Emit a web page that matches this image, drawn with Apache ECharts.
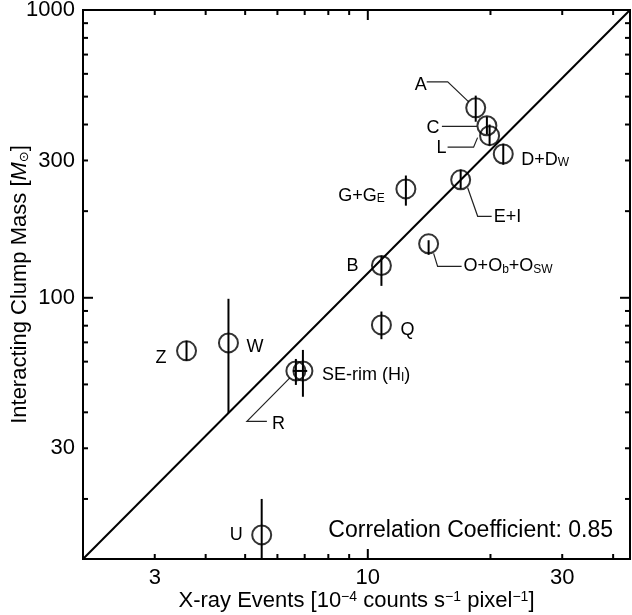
<!DOCTYPE html>
<html>
<head>
<meta charset="utf-8">
<script src="https://cdn.jsdelivr.net/npm/echarts@6.0.0/dist/echarts.min.js"></script>
<style>
  html, body { margin: 0; padding: 0; background: #fff; }
  #main { width: 632px; height: 615px; }
</style>
</head>
<body>
<div id="main"></div>
<script>
// clump names (rich text for the subscripts)
const labelText = ['A', 'C', 'L', 'D+D{s|W}', 'E+I', 'G+G{s|E}', 'O+O{s|b}+O{s|SW}', 'B', 'Q', 'W', 'Z', 'R', 'SE-rim (H{s|I})', 'U']
// X-ray events [1e-4 counts s-1 pixel-1]
const xray   = [18.4, 19.6, 19.9, 21.5, 16.9, 12.4, 14.1, 10.8, 10.8, 4.55, 3.59, 6.66, 6.93, 5.49]
// interacting clump mass [Msun] and its error range
const mass   = [457, 396, 366, 316, 257, 239, 154, 129.5, 80.5, 69.7, 65.4, 55.7, 55.7, 15.0]
const massLo = [409, 369, 338, 290, 239, 209, 141, 110, 71.8, 39.8, 60.4, 49.8, 45.3, 11]
const massHi = [504, 426, 400, 343, 279, 266, 158.5, 140, 89.6, 99.2, 70.9, 61.3, 65.9, 20.0]
// horizontal error (only SE-rim has a visible one)
const xrayLo = [null, null, null, null, null, null, null, null, null, null, null, null, 6.55, null]
const xrayHi = [null, null, null, null, null, null, null, null, null, null, null, null, 7.1, null]

// fitted relation, end points
const fitX = [2, 44]
const fitY = [12.37, 1000]

// axis ranges and ticks
const xMin = 2, xMax = 44, yMin = 12.37, yMax = 1000
const xLabels = [3, 10, 30]
const xMajor = [10]
const xMinor = [2, 3, 4, 5, 6, 7, 8, 9, 20, 30, 40]
const yLabels = [30, 100, 300, 1000]
const yMajor = [100, 1000]
const yMinor = [20, 30, 40, 50, 60, 70, 80, 90, 200, 300, 400, 500, 600, 700, 800, 900]

// where each label sits relative to its circle (px), plus leader lines
const labelLayout = [
  { dx: -55, dy: -23, align: 'center', leader: [[-49, -26], [-28, -26], [-7, -6]] },
  { dx: -54, dy: 2, align: 'center', leader: [[-45, 0.5], [-10, 0.5]] },
  { dx: -48, dy: 12, align: 'center', leader: [[-42, 11.5], [-16, 11.5], [-12, 2]] },
  { dx: 18, dy: 6, align: 'left' },
  { dx: 33, dy: 37, align: 'left', leader: [[7, 8], [17, 36.5], [31, 36.5]] },
  { dx: -21, dy: 7, align: 'right' },
  { dx: 35, dy: 22.5, align: 'left', leader: [[5, 9.5], [9, 22.5], [33, 22.5]] },
  { dx: -23, dy: 1, align: 'right' },
  { dx: 19, dy: 5, align: 'left' },
  { dx: 18, dy: 4.5, align: 'left' },
  { dx: -20, dy: 7, align: 'right' },
  { dx: -24, dy: 53, align: 'left', leader: [[-6, 7], [-49, 50.5], [-29, 50.5]] },
  { dx: 19, dy: 4, align: 'left' },
  { dx: -19, dy: 0, align: 'right' }
]

const FONT = '"Liberation Sans", Arial, Helvetica, sans-serif'
const MAJOR_LEN = 10, MINOR_LEN = 5

const chart = echarts.init(document.getElementById('main'))

const option = {
  animation: false,
  grid: {
    left: 83, top: 10, width: 547, height: 549,
    outerBoundsMode: 'none', containLabel: false,
    show: true, borderColor: '#000', borderWidth: 2, backgroundColor: 'transparent'
  },
  xAxis: {
    type: 'log',
    logBase: 10,
    min: xMin,
    max: xMax,
    axisLine: { show: false },
    axisTick: { show: false },
    splitLine: { show: false },
    axisLabel: {
      customValues: xLabels,
      formatter: v => String(v),
      color: '#000', fontSize: 22, fontFamily: FONT, margin: 8
    },
    name: 'X-ray Events [10{sup|\u22124} counts s{sup|\u22121} pixel{sup|\u22121}]',
    nameLocation: 'middle',
    nameGap: 31,
    nameMoveOverlap: false,
    nameTextStyle: {
      color: '#000', fontSize: 22, fontFamily: FONT, lineHeight: 22,
      rich: { sup: { fontSize: 14, lineHeight: 14, verticalAlign: 'top', fontFamily: FONT, color: '#000' } }
    }
  },
  yAxis: {
    type: 'log',
    logBase: 10,
    min: yMin,
    max: yMax,
    axisLine: { show: false },
    axisTick: { show: false },
    splitLine: { show: false },
    axisLabel: {
      customValues: yLabels,
      formatter: v => String(v),
      color: '#000', fontSize: 22, fontFamily: FONT, margin: 8
    },
    name: 'Interacting Clump Mass [{it|M}{sun|\u2299}]',
    nameLocation: 'middle',
    nameGap: 52,
    nameMoveOverlap: false,
    nameTextStyle: {
      color: '#000', fontSize: 22, fontFamily: FONT, lineHeight: 22,
      rich: {
        it: { fontSize: 22, fontStyle: 'italic', fontFamily: FONT, color: '#000' },
        sun: { fontSize: 13, lineHeight: 13, verticalAlign: 'bottom', fontFamily: 'DejaVu Sans', color: '#000' }
      }
    }
  },
  graphic: [{
    type: 'text',
    right: 19,
    top: 519,
    style: { text: 'Correlation Coefficient: 0.85', fontSize: 23, fontFamily: FONT, fill: '#000' }
  }],
  series: [
    // fitted line
    {
      type: 'line',
      data: fitX.map((x, i) => [x, fitY[i]]),
      symbol: 'none',
      lineStyle: { color: '#000', width: 2 },
      silent: true
    },
    // inward ticks on all four sides, placed through the log scales
    {
      type: 'custom',
      data: [[xMin, yMin]],
      renderItem: function (params, api) {
        const bl = api.coord([xMin, yMin])
        const tr = api.coord([xMax, yMax])
        const ch = []
        const seg = (x1, y1, x2, y2) => ch.push({
          type: 'line',
          shape: { x1: x1, y1: y1, x2: x2, y2: y2 },
          style: { stroke: '#000', lineWidth: 2 }
        })
        const xTick = (v, len) => {
          const x = api.coord([v, yMin])[0]
          seg(x, bl[1], x, bl[1] - len)
          seg(x, tr[1], x, tr[1] + len)
        }
        const yTick = (v, len) => {
          const y = api.coord([xMin, v])[1]
          seg(bl[0], y, bl[0] + len, y)
          seg(tr[0], y, tr[0] - len, y)
        }
        xMinor.forEach(v => xTick(v, MINOR_LEN))
        xMajor.forEach(v => xTick(v, MAJOR_LEN))
        yMinor.forEach(v => yTick(v, MINOR_LEN))
        yMajor.forEach(v => yTick(v, MAJOR_LEN))
        return { type: 'group', children: ch }
      },
      silent: true
    },
    // error bars
    {
      type: 'custom',
      clip: true,
      data: xray.map((x, i) => [x, mass[i]]),
      renderItem: function (params, api) {
        const i = params.dataIndex
        const top = api.coord([xray[i], massHi[i]])
        const bot = api.coord([xray[i], massLo[i]])
        const ch = [{
          type: 'line',
          shape: { x1: top[0], y1: top[1], x2: bot[0], y2: bot[1] },
          style: { stroke: '#000', lineWidth: 2 }
        }]
        if (xrayLo[i] != null) {
          const l = api.coord([xrayLo[i], mass[i]])
          const r = api.coord([xrayHi[i], mass[i]])
          ch.push({
            type: 'line',
            shape: { x1: l[0], y1: l[1], x2: r[0], y2: r[1] },
            style: { stroke: '#000', lineWidth: 2 }
          })
        }
        return { type: 'group', children: ch }
      },
      silent: true
    },
    // open circles
    {
      type: 'scatter',
      data: xray.map((x, i) => [x, mass[i]]),
      symbol: 'circle',
      symbolSize: 19,
      itemStyle: { color: 'rgba(0,0,0,0)', borderColor: '#000', borderWidth: 2 },
      silent: true
    },
    // names and leader lines
    {
      type: 'custom',
      data: xray.map((x, i) => [x, mass[i]]),
      renderItem: function (params, api) {
        const i = params.dataIndex
        const p = api.coord([xray[i], mass[i]])
        const lay = labelLayout[i]
        const ch = [{
          type: 'text',
          style: {
            text: labelText[i],
            x: p[0] + lay.dx,
            y: p[1] + lay.dy,
            align: lay.align,
            verticalAlign: 'middle',
            fontSize: 18,
            fontFamily: FONT,
            lineHeight: 18,
            fill: '#000',
            rich: { s: { fontSize: 12, lineHeight: 12, verticalAlign: 'bottom', fontFamily: FONT, fill: '#000' } }
          }
        }]
        if (lay.leader) {
          ch.push({
            type: 'polyline',
            shape: { points: lay.leader.map(o => [p[0] + o[0], p[1] + o[1]]) },
            style: { stroke: '#222', lineWidth: 1.2, fill: null }
          })
        }
        return { type: 'group', children: ch }
      },
      silent: true
    }
  ]
}

chart.setOption(option)
</script>
</body>
</html>
